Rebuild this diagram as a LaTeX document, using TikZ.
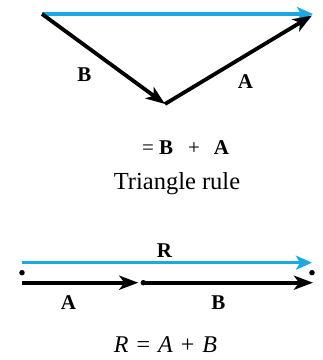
\documentclass[tikz,border=0pt]{standalone}
\usepackage{fontspec}
\setmainfont{Liberation Serif}
\usetikzlibrary{arrows.meta}
\definecolor{vecblue}{RGB}{28,168,226}
\tikzset{
  vec/.style={line width=3.8pt, -{Stealth[length=19pt,width=14pt,inset=5pt]}},
  bvec/.style={line width=3.4pt, draw=vecblue, -{Stealth[length=16pt,width=14pt,inset=4pt]}},
  lbl/.style={font=\fontsize{21}{24}\selectfont\bfseries, inner sep=0pt},
  txt/.style={font=\fontsize{24.5}{28}\selectfont, inner sep=0pt},
  pt/.style={circle, fill=black, inner sep=0pt, minimum size=5.5pt}
}
\begin{document}
\begin{tikzpicture}[x=1pt,y=1pt]
\useasboundingbox (0,0) rectangle (323,360);
% triangle rule
\coordinate (O) at (42,346);
\coordinate (V) at (165,256);
\coordinate (T) at (313,346);
\coordinate (T2) at (312,344.5);
\draw[bvec, line cap=butt] (O) -- (T);
\draw[vec] (O) -- (V);
\draw[vec] (V) -- (T2);
\node[lbl] (lB) at (84.5,285) {B};
\node[lbl] (lA) at (245.5,278) {A};
\node[lbl, font=\fontsize{21}{24}\selectfont, anchor=base west] (eq1) at (142,205)
  {=\hspace{5pt}\textbf{B}\hspace{15pt}+\hspace{14pt}\textbf{A}};
\node[txt, anchor=base] (tr) at (177,171) {Triangle rule};
% collinear
\coordinate (Rs) at (22,97.3);
\coordinate (Re) at (312,97.3);
\node[pt] (D1) at (22,87.3) {};
\node[pt] (D2) at (312,87.3) {};
\node[pt] (M) at (143.3,77.3) {};
\coordinate (As) at (22,77.3);
\coordinate (Be) at (313,77.3);
\draw[bvec] (Rs) -- (Re);
\draw[vec, shorten >=5pt] (As) -- (M.center);
\draw[vec] (M.center) -- (Be);
\node[lbl] (lR) at (164.5,109) {R};
\node[lbl] (lA2) at (68.5,57.5) {A};
\node[lbl] (lB2) at (218.5,57.5) {B};
\node[txt, font=\fontsize{24}{28}\selectfont, anchor=base] (eq2) at (165.5,7.3)
  {\textit{R}\hspace{8pt}=\hspace{8pt}\textit{A}\hspace{8pt}+\hspace{8pt}\textit{B}};
\end{tikzpicture}
\end{document}
